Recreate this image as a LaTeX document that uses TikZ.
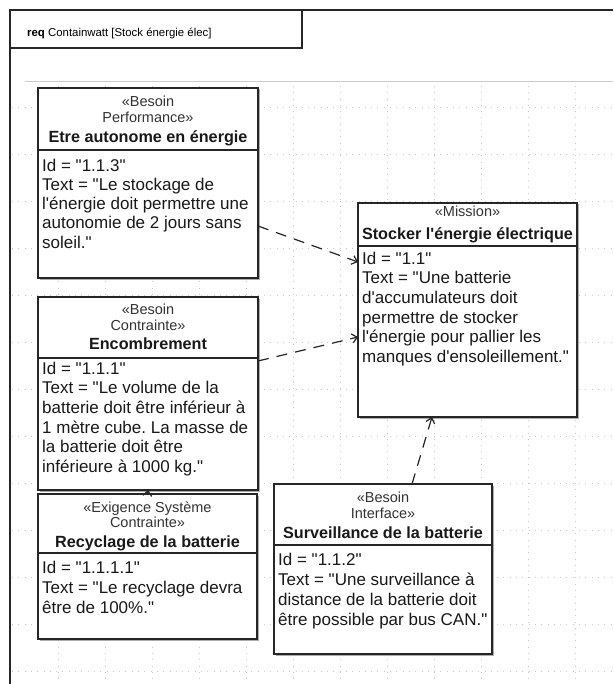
\documentclass[tikz,border=0pt]{standalone}
\usepackage{fontspec}
\setmainfont{Liberation Sans}[Ligatures=TeXOff]
\frenchspacing
\usetikzlibrary{arrows.meta,shadows}
\newcommand\mklines[6]{%
  \foreach \t [count=\i] in {#6} {\node[#5] (#1\i) at (#2,{#3+(\i-1)*#4}) {\t};}}
\tikzset{
  reqbox/.style={draw=black!85, line width=1.3pt, fill=white, inner sep=0, outer sep=0,
    drop shadow={shadow xshift=1.5pt,shadow yshift=-1.5pt,fill=black!40,opacity=0.8}},
  divider/.style={draw=black!85, line width=1.2pt},
  stereo/.style={anchor=base, inner sep=0, font=\fontsize{14.5}{16}\selectfont, text=black!80},
  rname/.style={anchor=base, inner sep=0, font=\fontsize{16.2}{18}\selectfont\bfseries, text=black!90},
  body/.style={anchor=base west, inner sep=0, font=\fontsize{17}{19}\selectfont, text=black!90},
  dep/.style={draw=black!85, line width=1.2pt, dash pattern=on 11pt off 8pt, -{Straight Barb[length=5pt,width=9pt]}},
  frame/.style={draw=black!85, line width=1.3pt},
  gridl/.style={draw=gray!45, line width=0.8pt, dash pattern=on 0.8pt off 5.5pt}
}
\begin{document}
\begin{tikzpicture}[x=1pt,y=-1pt]
\useasboundingbox (0,0) rectangle (613,684);
\fill[white] (0,0) rectangle (613,684);
% grid
\foreach \gx in {58,105,...,613} \draw[gridl] (\gx,86) -- (\gx,684);
\foreach \gy in {107,154,...,684} \draw[gridl] (12,\gy) -- (613,\gy);
\draw[gray!40, line width=1pt] (25,82) -- (613,82);
% frame
\draw[frame] (10,684) -- (10,10) -- (613,10);
\draw[frame] (10,48) -- (302,48) -- (302,10);
\node[anchor=base west, inner sep=0, font=\fontsize{11.4}{13}\selectfont] (hdr) at (27,37) {\textbf{req} Containwatt [Stock énergie élec]};
% Etre autonome
\node[reqbox, minimum width=220pt, minimum height=190pt] (etre) at (148,183) {};
\draw[divider] (38,150) -- (258,150);
\mklines{etreS}{148}{107}{15.5}{stereo}{«Besoin,Performance»}
\node[rname] (etreN) at (148,143) {Etre autonome en énergie};
\mklines{etreB}{42}{172}{19}{body}{Id = "1.1.3",Text = "Le stockage de,l'énergie doit permettre une,autonomie de 2 jours sans,soleil."}
% Encombrement
\node[reqbox, minimum width=220pt, minimum height=193pt] (enc) at (148,393.5) {};
\draw[divider] (38,358) -- (258,358);
\mklines{encS}{148}{314}{16}{stereo}{«Besoin,Contrainte»}
\node[rname] (encN) at (148,349) {Encombrement};
\mklines{encB}{42}{374}{19.7}{body}{Id = "1.1.1",Text = "Le volume de la,batterie doit être inférieur à,1 mètre cube. La masse de,la batterie doit être,inférieure à 1000 kg."}
% Recyclage
\node[reqbox, minimum width=219pt, minimum height=145pt] (rec) at (147.5,566.5) {};
\draw[divider] (38,553) -- (257,553);
\mklines{recS}{147.5}{512}{15.5}{stereo}{«Exigence Système,Contrainte»}
\node[rname] (recN) at (147.5,547) {Recyclage de la batterie};
\mklines{recB}{42}{573}{20}{body}{Id = "1.1.1.1",Text = "Le recyclage devra,être de 100\%."}
% Stocker
\node[reqbox, minimum width=219pt, minimum height=214pt] (sto) at (467.5,310) {};
\draw[divider] (358,246) -- (577,246);
\node[stereo] (stoS) at (467.5,217) {«Mission»};
\node[rname] (stoN) at (467.5,240) {Stocker l'énergie électrique};
\mklines{stoB}{362}{264}{19.7}{body}{Id = "1.1",Text = "Une batterie,d'accumulateurs doit,permettre de stocker,l'énergie pour pallier les,manques d'ensoleillement."}
% Surveillance
\node[reqbox, minimum width=218pt, minimum height=170pt] (sur) at (383,569) {};
\draw[divider] (274,545) -- (492,545);
\mklines{surS}{383}{502}{16}{stereo}{«Besoin,Interface»}
\node[rname] (surN) at (383,538) {Surveillance de la batterie};
\mklines{surB}{278}{565}{20}{body}{Id = "1.1.2",Text = "Une surveillance à,distance de la batterie doit,être possible par bus CAN."}
% dependencies
\draw[dep] ([yshift=-43pt]etre.east) -- ([yshift=48pt]sto.west);
\draw[dep] ([yshift=32.5pt]enc.east) -- ([yshift=-27pt]sto.west);
\draw[dep] ([xshift=29pt]sur.north) -- ([xshift=-35.5pt]sto.south);
\draw[dep] (rec.north) -- (enc.south);
\end{tikzpicture}
\end{document}
